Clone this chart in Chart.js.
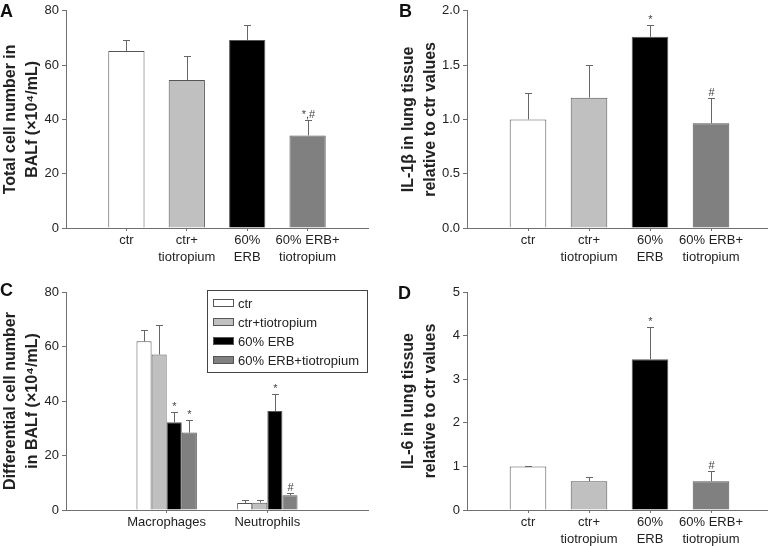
<!DOCTYPE html>
<html>
<head>
<meta charset="utf-8">
<script src="https://cdn.jsdelivr.net/npm/chart.js@4.4.1/dist/chart.umd.min.js"></script>
<style>
    body { margin: 0; width: 768px; height: 546px; overflow: hidden; background: #fff; }
    canvas { position: absolute; }
</style>
</head>
<body>
<canvas id="chartA" width="384" height="273" style="left:0;top:0"></canvas>
<canvas id="chartB" width="390" height="273" style="left:384px;top:0"></canvas>
<canvas id="chartC" width="384" height="273" style="left:0;top:273px"></canvas>
<canvas id="chartD" width="390" height="273" style="left:384px;top:273px"></canvas>
<script>
// Groups and tick labels
const groups = ['ctr', 'ctr+tiotropium', '60% ERB', '60% ERB+tiotropium'];
const groupTicks = ['', 'ctr', ['ctr+', 'tiotropium'], ['60%', 'ERB'], ['60% ERB+', 'tiotropium'], ''];
const cellTypes = ['', 'Macrophages', 'Neutrophils', ''];
const groupColors = ['#ffffff', '#c0c0c0', '#000000', '#808080'];

// A: total cells in BALf
const totalCells = [65.2, 54.5, 69.2, 34.1];
const totalCellsErr = [4.1, 9.0, 5.5, 5.8];
const totalCellsMarks = ['', '', '', '*,#'];

// B: IL-1beta
const il1b = [1.0, 1.2, 1.76, 0.965];
const il1bErr = [0.24, 0.3, 0.11, 0.23];
const il1bMarks = ['', '', '*', '#'];

// C: differential cells (macrophages, neutrophils) per group
const diffCells = [[61.9, 2.6], [57.1, 2.7], [32.2, 36.3], [28.4, 5.4]];
const diffCellsErr = [[4.3, 1.0], [10.9, 0.9], [3.7, 6.1], [4.8, 0.7]];
const diffCellsMarks = [['', ''], ['', ''], ['*', '*'], ['*', '#']];

// D: IL-6
const il6 = [1.0, 0.66, 3.46, 0.66];
const il6Err = [0.02, 0.09, 0.73, 0.23];
const il6Marks = ['', '', '*', '#'];

const FONT = '"Liberation Sans", Arial, sans-serif';
const AXIS = '#707070';

// pad the groups into the axis slots (empty slot at each end)
const pad = a => [null, ...a, null];

const errorBars = {
    id: 'errorBars',
    afterDatasetsDraw(chart) {
        const ctx = chart.ctx;
        const y = chart.scales.y;
        chart.data.datasets.forEach((ds, i) => {
            const meta = chart.getDatasetMeta(i);
            meta.data.forEach((bar, j) => {
                const v = ds.data[j];
                const e = ds.errors ? ds.errors[j] : null;
                if (v == null || e == null) return;
                const x = Math.round(bar.x) + 0.5;
                const top = Math.round(y.getPixelForValue(v + e)) + 0.5;
                ctx.save();
                ctx.strokeStyle = '#666';
                ctx.lineWidth = 1;
                ctx.beginPath();
                ctx.moveTo(x, bar.y);
                ctx.lineTo(x, top);
                ctx.moveTo(x - 3.5, top);
                ctx.lineTo(x + 3.5, top);
                ctx.stroke();
                const m = ds.marks ? ds.marks[j] : '';
                if (m) {
                    ctx.fillStyle = '#444';
                    ctx.font = '11px ' + FONT;
                    ctx.textAlign = 'center';
                    ctx.textBaseline = 'alphabetic';
                    ctx.fillText(m, x, top - 3);
                }
                ctx.restore();
            });
        });
    }
};

const panelLetter = {
    id: 'panelLetter',
    afterDraw(chart, args, opts) {
        if (!opts.text) return;
        const ctx = chart.ctx;
        ctx.save();
        ctx.fillStyle = '#111';
        ctx.font = 'bold 18px ' + FONT;
        ctx.textAlign = 'left';
        ctx.textBaseline = 'alphabetic';
        ctx.fillText(opts.text, opts.x, opts.y);
        ctx.restore();
    }
};

const boxLegend = {
    id: 'boxLegend',
    afterDraw(chart, args, opts) {
        if (!opts.show) return;
        const ctx = chart.ctx;
        const a = chart.chartArea;
        const left = a.left + 141, top = a.top - 2, w = 160, h = 82;
        ctx.save();
        ctx.strokeStyle = '#444';
        ctx.lineWidth = 1;
        ctx.strokeRect(left + 0.5, top + 0.5, w, h);
        ctx.font = '13px ' + FONT;
        ctx.textBaseline = 'middle';
        ctx.textAlign = 'left';
        chart.data.datasets.forEach((ds, i) => {
            const cy = top + 13 + i * 19;
            ctx.fillStyle = ds.backgroundColor;
            ctx.fillRect(left + 6.5, cy - 3.5, 20, 7);
            ctx.strokeStyle = '#555';
            ctx.strokeRect(left + 6.5, cy - 3.5, 20, 7);
            ctx.fillStyle = '#222';
            ctx.fillText(ds.label, left + 31, cy + 1);
        });
        ctx.restore();
    }
};

function makeChart(id, opt) {
    const nTicks = opt.labels.length;
    return new Chart(document.getElementById(id), {
        type: 'bar',
        data: { labels: opt.labels, datasets: opt.datasets },
        plugins: [errorBars, panelLetter, boxLegend],
        options: {
            responsive: false,
            animation: false,
            layout: { padding: { top: opt.top, right: opt.right, left: 0, bottom: 0 } },
            datasets: { bar: { categoryPercentage: opt.catPct, barPercentage: opt.barPct } },
            plugins: {
                legend: { display: false },
                tooltip: { enabled: false },
                panelLetter: opt.letter,
                boxLegend: { show: !!opt.legend }
            },
            scales: {
                x: {
                    offset: false,
                    grid: {
                        offset: false,
                        drawOnChartArea: false,
                        tickLength: 3,
                        tickColor: c => (c.index === 0 || c.index === nTicks - 1) ? 'rgba(0,0,0,0)' : AXIS
                    },
                    border: { color: AXIS },
                    ticks: {
                        autoSkip: false, maxRotation: 0, padding: 1,
                        color: '#222', font: { family: FONT, size: 13, lineHeight: 1.3 }
                    },
                    afterFit: s => { s.height = opt.xHeight; }
                },
                y: {
                    min: opt.min, max: opt.max,
                    grid: { drawOnChartArea: false, tickLength: 4, color: AXIS },
                    border: { color: AXIS },
                    ticks: {
                        stepSize: opt.step, padding: 3, autoSkip: false,
                        color: '#222', font: { family: FONT, size: 13 },
                        callback: v => opt.decimals ? v.toFixed(opt.decimals) : v
                    },
                    title: {
                        display: true, text: opt.title, color: '#222',
                        padding: { top: opt.titleShift || 0, bottom: 0 },
                        font: { family: FONT, size: 16, weight: 'bold', lineHeight: 1.35 }
                    },
                    afterFit: s => { s.width = opt.yWidth; }
                }
            }
        }
    });
}

function groupDataset(values, errors, marks) {
    return {
        data: pad(values),
        errors: pad(errors),
        marks: pad(marks),
        backgroundColor: pad(groupColors),
        borderColor: '#555',
        borderWidth: 1
    };
}

makeChart('chartA', {
    labels: groupTicks,
    datasets: [groupDataset(totalCells, totalCellsErr, totalCellsMarks)],
    min: 0, max: 80, step: 20,
    title: ['Total cell number in', 'BALf (×10⁴/mL)'],
    top: 10, right: 16, xHeight: 45, yWidth: 66,
    catPct: 1, barPct: 0.6,
    letter: { text: 'A', x: 0, y: 17 }
});

makeChart('chartB', {
    labels: groupTicks,
    datasets: [groupDataset(il1b, il1bErr, il1bMarks)],
    min: 0, max: 2, step: 0.5, decimals: 1,
    title: ['IL-1β in lung tissue', 'relative to ctr values'],
    titleShift: 14,
    top: 10, right: 2, xHeight: 45, yWidth: 83,
    catPct: 1, barPct: 0.6,
    letter: { text: 'B', x: 15, y: 17 }
});

makeChart('chartC', {
    labels: cellTypes,
    datasets: groups.map((g, i) => ({
        label: g,
        data: pad(diffCells[i]),
        errors: pad(diffCellsErr[i]),
        marks: pad(diffCellsMarks[i]),
        backgroundColor: groupColors[i],
        borderColor: '#555',
        borderWidth: 1
    })),
    min: 0, max: 80, step: 20,
    title: ['Differential cell number', 'in BALf (×10⁴/mL)'],
    top: 19, right: 16, xHeight: 36, yWidth: 66,
    catPct: 0.6, barPct: 1,
    letter: { text: 'C', x: 0, y: 23 },
    legend: true
});

makeChart('chartD', {
    labels: groupTicks,
    datasets: [groupDataset(il6, il6Err, il6Marks)],
    min: 0, max: 5, step: 1,
    title: ['IL-6 in lung tissue', 'relative to ctr values'],
    titleShift: 14,
    top: 19, right: 2, xHeight: 36, yWidth: 83,
    catPct: 1, barPct: 0.6,
    letter: { text: 'D', x: 14, y: 26 }
});
</script>
</body>
</html>
